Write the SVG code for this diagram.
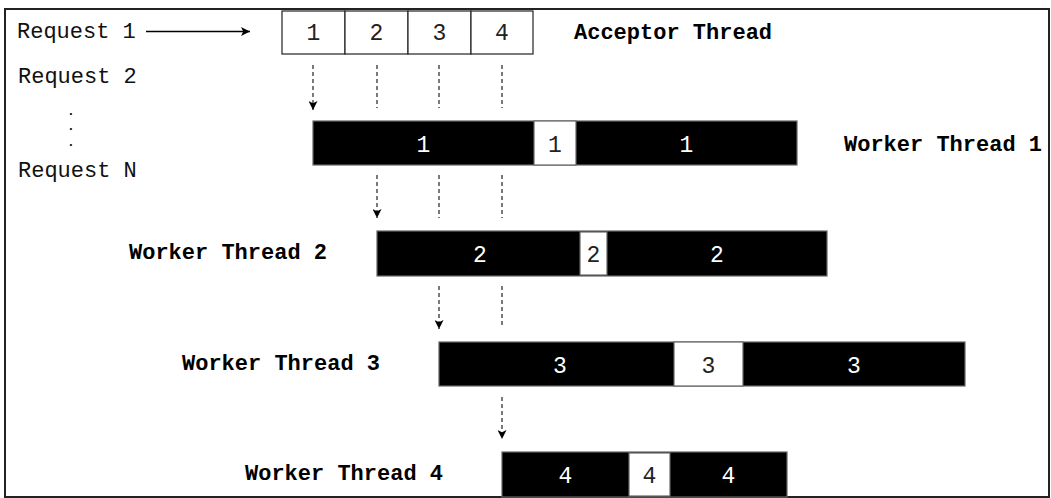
<svg xmlns="http://www.w3.org/2000/svg" width="1051" height="498" viewBox="0 0 1051 498">
  <defs>
    <style>
      .lbl { font-family: "Liberation Mono", "Courier New", monospace; font-size: 22px; fill: #111; }
      .dot { font-family: "Liberation Mono", "Courier New", monospace; font-size: 13px; font-weight: bold; fill: #111; }
      .bold { font-family: "Liberation Mono", "Courier New", monospace; font-size: 22px; font-weight: bold; fill: #000; }
      .num { font-family: "Liberation Mono", "Courier New", monospace; font-size: 23px; text-anchor: middle; }
      .numw { fill: #fff; }
      .numb { fill: #222; }
      .cell { fill: #fff; stroke: #222; stroke-width: 1.2; }
      .bar { fill: #000; stroke: #666; stroke-width: 1.2; }
      .slot { fill: #fff; stroke: #666; stroke-width: 1.2; }
      .dash { stroke: #333; stroke-width: 1.3; stroke-dasharray: 4 3; fill: none; }
      .solid { stroke: #000; stroke-width: 1.3; fill: none; }
    </style>
    <marker id="ah" viewBox="0 0 10 10" refX="10" refY="5" markerWidth="10" markerHeight="9" markerUnits="userSpaceOnUse" orient="auto">
      <path d="M0,0 L10,5 L0,10 L2.5,5 Z" fill="#000"/>
    </marker>
  </defs>

  <rect x="5" y="9" width="1044" height="488" fill="#fff" stroke="#222" stroke-width="2"/>

  <g id="requests">
    <text class="lbl" x="17" y="38">Request 1</text>
    <text class="lbl" x="18" y="83">Request 2</text>
    <text class="dot" x="67" y="115">.</text>
    <text class="dot" x="67" y="130">.</text>
    <text class="dot" x="67" y="146">.</text>
    <text class="lbl" x="18" y="177">Request N</text>
  </g>

  <g id="acceptor">
    <rect class="cell" x="282" y="11" width="63" height="43"/>
    <rect class="cell" x="345" y="11" width="63" height="43"/>
    <rect class="cell" x="408" y="11" width="63" height="43"/>
    <rect class="cell" x="471" y="11" width="62" height="43"/>
    <text class="num numb" x="313.5" y="40">1</text>
    <text class="num numb" x="376.5" y="40">2</text>
    <text class="num numb" x="439.5" y="40">3</text>
    <text class="num numb" x="502" y="40">4</text>
    <text class="bold" x="574" y="38.5">Acceptor Thread</text>
  </g>

  <g id="worker1">
    <rect class="bar" x="313" y="121" width="484" height="44"/>
    <rect class="slot" x="534" y="121" width="42" height="44"/>
    <text class="num numw" x="423.5" y="151.5">1</text>
    <text class="num numb" x="555" y="151.5">1</text>
    <text class="num numw" x="686.5" y="151.5">1</text>
    <text class="bold" x="844" y="151">Worker Thread 1</text>
  </g>

  <g id="worker2">
    <rect class="bar" x="377" y="231" width="450" height="45"/>
    <rect class="slot" x="580" y="232" width="27" height="43"/>
    <text class="num numw" x="480" y="262">2</text>
    <text class="num numb" x="593.5" y="262">2</text>
    <text class="num numw" x="717" y="262">2</text>
    <text class="bold" x="129" y="259">Worker Thread 2</text>
  </g>

  <g id="worker3">
    <rect class="bar" x="439" y="342" width="526" height="44"/>
    <rect class="slot" x="674" y="342" width="69" height="44"/>
    <text class="num numw" x="560" y="372.5">3</text>
    <text class="num numb" x="708.5" y="372.5">3</text>
    <text class="num numw" x="854" y="372.5">3</text>
    <text class="bold" x="182" y="370">Worker Thread 3</text>
  </g>

  <g id="worker4">
    <rect class="bar" x="502" y="452" width="285" height="45"/>
    <rect class="slot" x="629" y="453" width="41" height="43"/>
    <text class="num numw" x="565.5" y="482.5">4</text>
    <text class="num numb" x="649.5" y="482.5">4</text>
    <text class="num numw" x="728.5" y="482.5">4</text>
    <text class="bold" x="245" y="480">Worker Thread 4</text>
  </g>

  <g id="connectors">
    <line class="solid" x1="146" y1="31.5" x2="250" y2="31.5" marker-end="url(#ah)"/>
    <line class="dash" x1="313" y1="65" x2="313" y2="110" marker-end="url(#ah)"/>
    <line class="dash" x1="377" y1="65" x2="377" y2="108"/>
    <line class="dash" x1="439" y1="65" x2="439" y2="108"/>
    <line class="dash" x1="502" y1="65" x2="502" y2="108"/>
    <line class="dash" x1="377" y1="175" x2="377" y2="218" marker-end="url(#ah)"/>
    <line class="dash" x1="439" y1="175" x2="439" y2="218"/>
    <line class="dash" x1="502" y1="175" x2="502" y2="218"/>
    <line class="dash" x1="439" y1="286" x2="439" y2="329" marker-end="url(#ah)"/>
    <line class="dash" x1="502" y1="286" x2="502" y2="328"/>
    <line class="dash" x1="502" y1="397" x2="502" y2="439" marker-end="url(#ah)"/>
  </g>
</svg>
